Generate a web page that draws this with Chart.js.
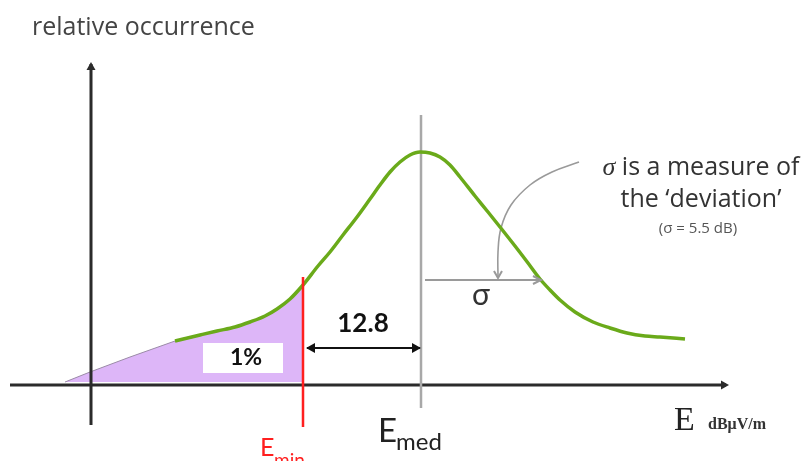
<!DOCTYPE html>
<html><head><meta charset="utf-8">
<script src="https://cdn.jsdelivr.net/npm/chart.js@4"></script>
<style>html,body{margin:0;padding:0;background:#fff;overflow:hidden}#wrap{width:810px;height:461px}</style>
</head><body><div id="wrap"><canvas id="c" width="810" height="461"></canvas></div>
<script>
// ---- Data (schematic units: x along the E axis, y measured downward from the top) ----
const curveX = [175,200,217,235,250,265,277,290,303,318,330,343,357,370,380,390,400,410,420,430,440,450,460,475,488,500,515,528,540,550,560,575,593,610,627,645,660,685];
const curveY = [341,335,331,327,322,316,309,299,285,266,252,235,217,199,185,172,162,155,152,153,157,165,177,196,212,227,246,263,279,290,300,312,322,328,333,336,337,339];
const tailX = [65,90,130,175];
const tailY = [382,372,357,341];
const baselineY = 382;
const eMinX = 303, eMinTop = 277, eMinBottom = 427;
const eMedX = 421, eMedTop = 115, eMedBottom = 408;
const xAxis = {x0: 10, x1: 726, y: 385};
const yAxis = {x: 91, y0: 425, y1: 64};
const spanArrow = {x0: 307, x1: 420, y: 348};
const sigmaArrow = {x0: 425, x1: 540, y: 280};
const curvedArrowX = [579,552,530,511,501,498,498];
const curvedArrowY = [162,172,185,205,228,252,277];
const labelSpan = "12.8";
const labelArea = "1%";
const labelY = "relative occurrence";
const noteLines = ["σ", " is a measure of", "the ‘deviation’", "(σ = 5.5 dB)"];

const pts = (xs, ys) => xs.map((x, i) => ({x, y: ys[i]}));
const curve = pts(curveX, curveY);
const fillPts = pts(tailX, tailY).concat(curve.filter(p => p.x <= eMinX)).concat([{x: eMinX, y: baselineY}]);

function ds(data, color, width, order, extra) {
  return Object.assign({data, borderColor: color, borderWidth: width, pointRadius: 0, fill: false, tension: 0, order}, extra || {});
}

const overlay = {
  id: 'overlay',
  afterDatasetsDraw(chart) {
    const c = chart.ctx, X = v => chart.scales.x.getPixelForValue(v), Y = v => chart.scales.y.getPixelForValue(v);
    function head(tx, ty, dx, dy, color, filled, len, half) {
      const ux = dx, uy = dy, px = -uy, py = ux;
      c.save();
      c.strokeStyle = color; c.fillStyle = color; c.lineWidth = 2;
      c.beginPath();
      c.moveTo(X(tx) - ux*len + px*half, Y(ty) - uy*len + py*half);
      c.lineTo(X(tx), Y(ty));
      c.lineTo(X(tx) - ux*len - px*half, Y(ty) - uy*len - py*half);
      if (filled) { c.closePath(); c.fill(); } else c.stroke();
      c.restore();
    }
    head(yAxis.x, yAxis.y1 - 2, 0, -1, '#2b2b2b', true, 8, 4.5);
    head(xAxis.x1 + 3, xAxis.y, 1, 0, '#2b2b2b', true, 8, 4.5);
    head(spanArrow.x0 - 1, spanArrow.y, -1, 0, '#111', true, 9, 5);
    head(spanArrow.x1 + 1, spanArrow.y, 1, 0, '#111', true, 9, 5);
    head(sigmaArrow.x1 + 1, sigmaArrow.y, 1, 0, '#9a9a9a', false, 8, 4);
    head(curvedArrowX[curvedArrowX.length-1], curvedArrowY[curvedArrowY.length-1] + 1, 0, 1, '#9a9a9a', false, 7, 4);

    // white box behind 1%
    c.fillStyle = '#fff';
    c.fillRect(X(203), Y(343), X(283) - X(203), Y(373) - Y(343));

    c.textBaseline = 'alphabetic';
    function txt(s, x, y, font, color, align) {
      c.font = font; c.fillStyle = color; c.textAlign = align || 'left';
      c.fillText(s, X(x), Y(y));
    }
    txt(labelY, 32, 35, '25px "Open Sans"', '#444');
    txt(labelSpan, 363, 332, 'bold 26px Lato', '#111', 'center');
    txt(labelArea, 246, 365, 'bold 23px Lato', '#111', 'center');
    txt('σ', 481, 305, '30px Lato', '#333', 'center');

    // note
    c.font = 'italic 26px "Liberation Serif"';
    const w0 = c.measureText(noteLines[0]).width;
    c.font = '25px "Open Sans"';
    const w1 = c.measureText(noteLines[1]).width;
    const start = X(701) - (w0 + w1) / 2;
    c.textAlign = 'left'; c.fillStyle = '#333';
    c.font = 'italic 26px "Liberation Serif"'; c.fillText(noteLines[0], start, Y(175));
    c.font = '25px "Open Sans"'; c.fillText(noteLines[1], start + w0, Y(175));
    txt(noteLines[2], 701, 207, '25px "Open Sans"', '#333', 'center');
    txt(noteLines[3], 698, 233, '15px "Open Sans"', '#555', 'center');

    // axis labels
    txt('E', 378, 442, '33px Lato', '#222');
    txt('med', 396, 450, '24px Lato', '#222');
    txt('E', 260, 456, '25px Lato', '#ff1f1f');
    txt('min', 274, 467, '19px Lato', '#ff1f1f');
    txt('E', 674, 430, '34px "Liberation Serif"', '#222');
    txt('dBμV/m', 708, 429, 'bold 16px "Liberation Serif"', '#333');
  }
};

new Chart(document.getElementById('c'), {
  type: 'scatter',
  data: {
    datasets: [
      ds(fillPts, '#9a8aa6', 1, 9, {showLine: true, fill: {value: baselineY}, backgroundColor: 'rgba(219,178,248,0.95)'}),
      ds([{x: xAxis.x0, y: xAxis.y}, {x: xAxis.x1, y: xAxis.y}], '#2b2b2b', 3, 8, {showLine: true}),
      ds([{x: yAxis.x, y: yAxis.y0}, {x: yAxis.x, y: yAxis.y1}], '#2b2b2b', 3, 7, {showLine: true}),
      ds([{x: eMedX, y: eMedTop}, {x: eMedX, y: eMedBottom}], '#a8a8a8', 2.5, 6, {showLine: true}),
      ds([{x: sigmaArrow.x0, y: sigmaArrow.y}, {x: sigmaArrow.x1, y: sigmaArrow.y}], '#9a9a9a', 2, 5, {showLine: true}),
      ds(pts(curvedArrowX, curvedArrowY), '#9a9a9a', 1.6, 4, {showLine: true, tension: 0.4}),
      ds(curve, '#6aaa1a', 3.5, 3, {showLine: true, cubicInterpolationMode: 'monotone'}),
      ds([{x: eMinX, y: eMinTop}, {x: eMinX, y: eMinBottom}], '#ff1f1f', 2.5, 2, {showLine: true}),
      ds([{x: spanArrow.x0, y: spanArrow.y}, {x: spanArrow.x1, y: spanArrow.y}], '#111', 2.2, 1, {showLine: true})
    ]
  },
  options: {
    responsive: false, animation: false, devicePixelRatio: 1,
    layout: {padding: 0},
    plugins: {legend: {display: false}, tooltip: {enabled: false}},
    scales: {
      x: {type: 'linear', min: 0, max: 810, display: false},
      y: {type: 'linear', min: 0, max: 461, reverse: true, display: false}
    }
  },
  plugins: [overlay]
});
</script></body></html>
